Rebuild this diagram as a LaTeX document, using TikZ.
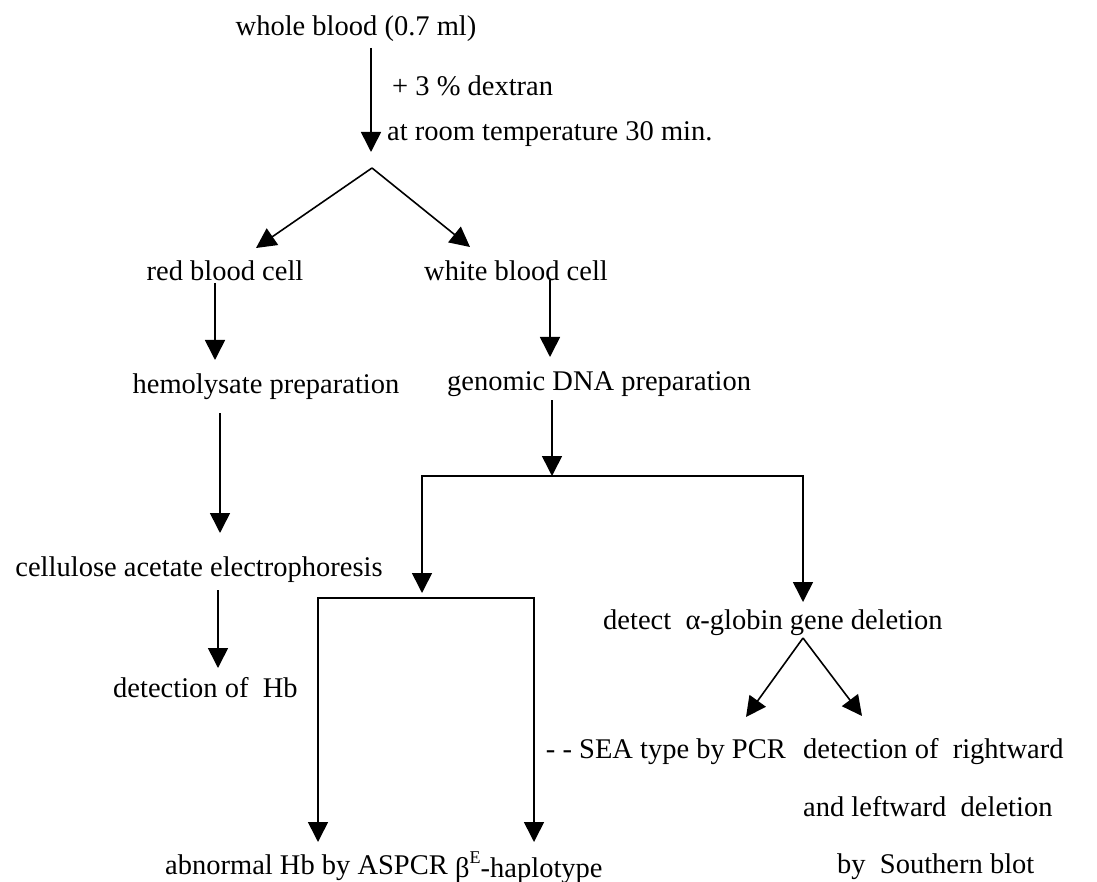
\documentclass[tikz,border=0pt]{standalone}
\usepackage{fontspec}
\setmainfont{Liberation Serif}
\usetikzlibrary{arrows.meta}
\begin{document}
\begin{tikzpicture}[x=1pt,y=-1pt,
  lbl/.style={inner sep=0pt, font=\fontsize{28.5}{34}\selectfont},
  arr/.style={line width=1.6pt, -{Triangle[length=20pt,width=20pt]}},
  ln/.style={line width=1.6pt, line join=miter}]
\useasboundingbox (0,0) rectangle (1097,882);
% texts
\node[lbl] (wb) at (356,29) {whole blood (0.7 ml)};
\node[lbl, anchor=west] (dex) at (392,86) {+ 3 \% dextran};
\node[lbl, anchor=west] (rt) at (387,134) {at room temperature 30 min.};
\node[lbl] (rbc) at (225,271) {red blood cell};
\node[lbl, anchor=west] (wbc) at (424,271) {white blood cell};
\node[lbl] (hem) at (266,387) {hemolysate preparation};
\node[lbl, anchor=west] (gen) at (447,384) {genomic DNA preparation};
\node[lbl] (cel) at (199,570) {cellulose acetate electrophoresis};
\node[lbl, anchor=west] (dhb) at (113,688) {detection of\ \ Hb};
\node[lbl, anchor=west] (det) at (603,623) {detect\ \ α-globin gene deletion};
\node[lbl, anchor=east] (sea) at (786,752) {- - SEA type by PCR};
\node[lbl, anchor=west] (dr) at (803,752) {detection of\ \ rightward};
\node[lbl, anchor=west] (lw) at (803,807) {and leftward\ \ deletion};
\node[lbl, anchor=west] (sb) at (837,867) {by\ \ Southern blot};
\node[lbl, anchor=west] (ab) at (165,868) {abnormal Hb by ASPCR};
\node[lbl, anchor=west] (be) at (455,868) {β\raisebox{0.5em}{\fontsize{18}{18}\selectfont E}-haplotype};
% junction coordinates
\coordinate (w0) at (371,48);
\coordinate (w1) at (371,152);
\coordinate (ap1) at (372,168);
\coordinate (rt1) at (256,248);
\coordinate (wt1) at (470,247);
\coordinate (r0) at (215,283);
\coordinate (r1) at (215,360);
\coordinate (c0) at (550,280);
\coordinate (c1) at (550,357);
\coordinate (h0) at (220,413);
\coordinate (h1) at (220,533);
\coordinate (e0) at (218,590);
\coordinate (e1) at (218,668);
\coordinate (g0) at (552,400);
\coordinate (g1) at (552,476);
\coordinate (uL) at (422,476);
\coordinate (uR) at (803,476);
\coordinate (uLt) at (422,593);
\coordinate (uRt) at (803,602);
\coordinate (lL) at (318,598);
\coordinate (lR) at (534,598);
\coordinate (lLt) at (318,842);
\coordinate (lRt) at (534,842);
\coordinate (ap2) at (803,638);
\coordinate (st) at (746,717);
\coordinate (dt) at (862,716);
% connectors
\draw[arr] (w0) -- (w1);
\draw[arr] (ap1) -- (rt1);
\draw[arr] (ap1) -- (wt1);
\draw[arr] (r0) -- (r1);
\draw[arr] (c0) -- (c1);
\draw[arr] (h0) -- (h1);
\draw[arr] (e0) -- (e1);
\draw[arr] (g0) -- (g1);
\draw[arr] (uR) -- (uL) -- (uLt);
\draw[arr] (uL) -- (uR) -- (uRt);
\draw[arr] (lR) -- (lL) -- (lLt);
\draw[arr] (lL) -- (lR) -- (lRt);
\draw[arr] (ap2) -- (st);
\draw[arr] (ap2) -- (dt);
\end{tikzpicture}
\end{document}
